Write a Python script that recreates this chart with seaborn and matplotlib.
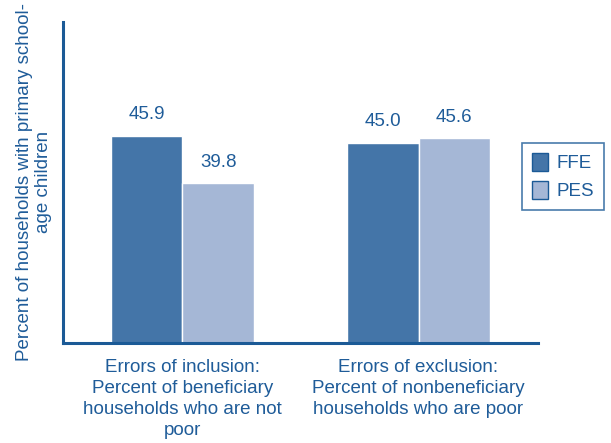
import matplotlib
matplotlib.use("Agg")
import matplotlib.pyplot as plt
import seaborn as sns
import pandas as pd

categories = ["Errors of inclusion:\nPercent of beneficiary\nhouseholds who are not\npoor",
              "Errors of exclusion:\nPercent of nonbeneficiary\nhouseholds who are poor"]
series = ["FFE", "PES"]
ffe_values = [45.9, 45.0]
pes_values = [39.8, 45.6]

df = pd.DataFrame({
    "category": categories * 2,
    "series": ["FFE"] * 2 + ["PES"] * 2,
    "value": ffe_values + pes_values,
})

sns.set_theme(style="white")
plt.rcParams['font.family'] = ['Liberation Sans', 'DejaVu Sans']
text_color = "#1F5C99"
axis_color = "#1B5A96"
palette = {"FFE": "#4475A8", "PES": "#A5B7D6"}
fs = 13.5

fig = plt.figure(figsize=(6.11, 4.43), dpi=100)
ax = fig.add_axes([63.5 / 611, 1 - 342.5 / 443, (538 - 63.5) / 611, (342.5 - 22) / 443])
sns.barplot(data=df, x="category", y="value", hue="series", palette=palette,
            width=0.606, ax=ax, saturation=1, legend=True)

for c in ax.containers:
    ax.bar_label(c, fmt="%.1f", padding=9, color=text_color, fontsize=fs)

ax.set_ylim(19.2, 60.6)
ax.set_xlim(-0.504, 1.506)
ax.set_yticks([])
ax.set_xlabel("")
ax.set_ylabel("Percent of households with primary school-\nage children", color=text_color,
              fontsize=fs, labelpad=8, linespacing=1.2)
ax.tick_params(axis="x", length=0, colors=text_color, labelsize=fs, pad=12)
for lab in ax.get_xticklabels():
    lab.set_linespacing(1.3)
for s in ["top", "right"]:
    ax.spines[s].set_visible(False)
for s in ["left", "bottom"]:
    ax.spines[s].set_color(axis_color)
    ax.spines[s].set_linewidth(2.2)

leg = ax.legend(loc="upper left", bbox_to_anchor=(522 / 611, 1 - 143 / 443),
                bbox_transform=fig.transFigure, frameon=True, fancybox=False,
                fontsize=fs, handlelength=0.85, handleheight=1.12, borderpad=0.52,
                labelspacing=0.45, handletextpad=0.48, borderaxespad=0)
leg.get_frame().set_edgecolor(axis_color)
leg.get_frame().set_linewidth(1.2)
for t in leg.get_texts():
    t.set_color(text_color)
for h in leg.legend_handles:
    h.set_edgecolor(axis_color)
    h.set_linewidth(1)

fig.savefig("out.png", dpi=100)
